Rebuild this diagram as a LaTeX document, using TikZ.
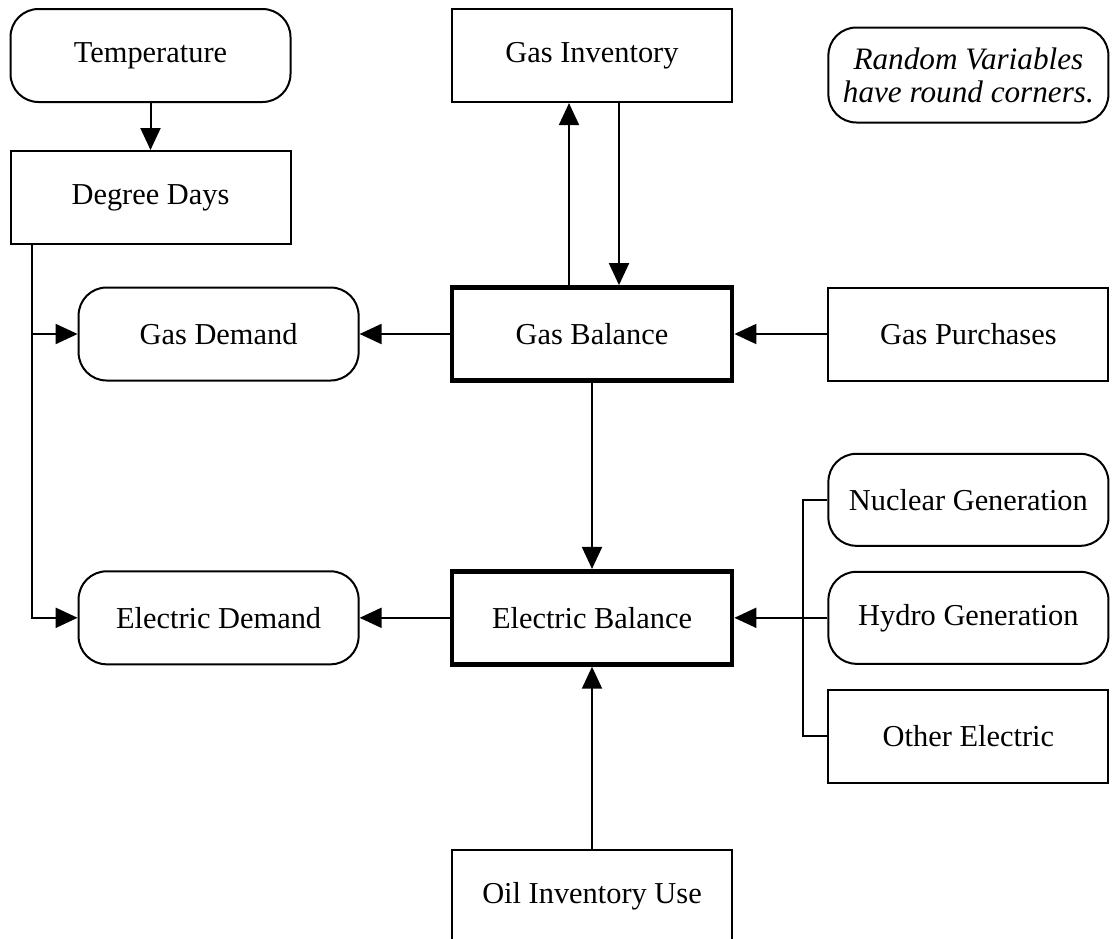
\documentclass[tikz,border=0pt]{standalone}
\usepackage{fontspec}
\setmainfont{Liberation Serif}
\usetikzlibrary{positioning, arrows.meta, calc}

\begin{document}
\begin{tikzpicture}[
  decision/.style={draw, minimum width=140pt, minimum height=46.5pt, align=center,
                   line width=1pt, font=\fontsize{15.2}{17}\selectfont},
  random/.style={decision, rounded corners=14pt},
  balance/.style={decision, line width=2.4pt},
  note/.style={random, minimum height=47.5pt, font=\fontsize{15.6}{16.5}\selectfont\itshape},
  arr/.style={-{Triangle[length=11pt, width=10pt]}, line width=1pt},
  link/.style={line width=1pt},
]

% --- Page frame (bottom box runs off the page) ---
\clip (0,0) rectangle (556.5pt,-469pt);

% --- Balances in the middle column ---
\node[balance] (gbal) at (296pt,-167pt) {Gas Balance};
\node[balance, below=93pt of gbal] (ebal) {Electric Balance};
\node[decision, above=91pt of gbal] (ginv) {Gas Inventory};
\node[decision, below=91pt of ebal] (oil) {Oil Inventory Use};

% --- Weather and demands on the left ---
\node[random] (temp) at (75.25pt,-27.75pt) {Temperature};
\node[decision, below=23.5pt of temp] (dd) {Degree Days};
\node[random, left=45pt of gbal] (gdem) {Gas Demand};
\node[random, left=45pt of ebal] (edem) {Electric Demand};

% --- Supplies on the right ---
\node[decision, right=46.5pt of gbal] (gpur) {Gas Purchases};
\node[note, above=81.5pt of gpur] (key) {Random Variables\\have round corners.};
\node[random, minimum height=46pt, right=46.5pt of ebal] (hyd) {Hydro Generation};
\node[random, minimum height=46pt, above=12pt of hyd] (nuc) {Nuclear Generation};
\node[decision, below=12pt of hyd] (oth) {Other Electric};

% --- Weather links ---
\draw[arr] (temp) -- (dd);
\coordinate (ddout) at ([xshift=11pt]dd.south west);
\draw[arr] (ddout) |- (gdem.west);
\draw[arr] (ddout) |- (edem.west);

% --- Gas flows ---
\draw[arr] ([xshift=-11.5pt]gbal.north) -- ([xshift=-11.5pt]gbal.north |- ginv.south);
\draw[arr] ([xshift=13.5pt]ginv.south) -- ([xshift=13.5pt]ginv.south |- gbal.north);
\draw[arr] (gbal) -- (gdem);
\draw[arr] (gpur) -- (gbal);
\draw[arr] (gbal) -- (ebal);

% --- Electric flows ---
\draw[arr] (ebal) -- (edem);
\draw[arr] (oil) -- (ebal);
\coordinate (genbus) at ([xshift=-12pt]hyd.west);
\draw[link] (nuc.west) -| (genbus) |- (oth.west);
\draw[arr] (hyd.west) -- (ebal.east);

\end{tikzpicture}
\end{document}
